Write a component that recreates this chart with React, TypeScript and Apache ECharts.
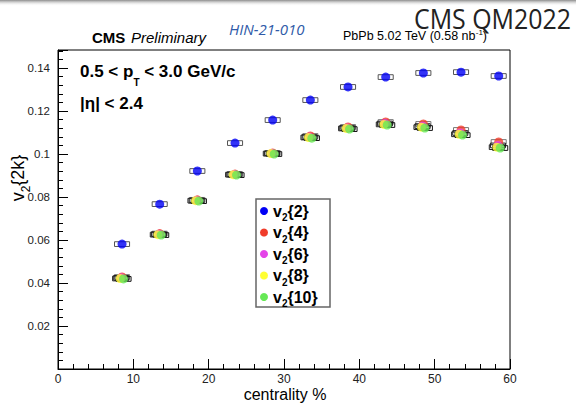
import React, { useEffect, useRef } from "react";
import * as echarts from "echarts";

// ---- data ----
const centrality = [8.5, 13.5, 18.5, 23.5, 28.5, 33.5, 38.5, 43.5, 48.5, 53.5, 58.5];
const v2_2 = [0.0581, 0.0767, 0.0921, 0.1051, 0.1158, 0.1251, 0.1312, 0.1358, 0.1377, 0.1381, 0.1363];
const v2_4 = [0.0428, 0.063, 0.0787, 0.0907, 0.1005, 0.1084, 0.1126, 0.1149, 0.114, 0.1112, 0.1056];
const v2_6 = [0.0424, 0.0627, 0.0784, 0.0905, 0.1003, 0.1079, 0.1121, 0.1142, 0.113, 0.1098, 0.104];
const v2_8 = [0.0421, 0.0625, 0.0783, 0.0904, 0.1002, 0.1077, 0.1119, 0.1138, 0.1125, 0.1092, 0.1032];
const v2_10 = [0.0419, 0.0623, 0.0781, 0.0902, 0.1, 0.1074, 0.1116, 0.1135, 0.1121, 0.1088, 0.1028];
const seriesNames = ["v2{2}", "v2{4}", "v2{6}", "v2{8}", "v2{10}"];
const legendLabels = ["2", "4", "6", "8", "10"];
const xTicks = { min: 0, max: 60, interval: 10 };
const yTicks = { min: 0, max: 0.1484, interval: 0.02 };

// ---- styles ----
const colors = ["#0000f5", "#f03c2a", "#e444e8", "#ffff33", "#66e855"];
const boxColors = ["#555555", "#777777", "#222222", "#222222", "#111111"];
const xShift = [0, 0, -0.1, -0.25, 0.2];
const FONT = '"Liberation Sans", Arial, sans-serif';

export default function App() {
  const ref = useRef<HTMLDivElement>(null);
  useEffect(() => {
    document.body.style.margin = "0";
    if (!ref.current) return;
    const chart = echarts.init(ref.current, undefined, { renderer: "svg" });
    const allValues = [v2_2, v2_4, v2_6, v2_8, v2_10];

    const boxSeries = allValues.map((vals, i) => ({
      type: "custom",
      name: seriesNames[i] + " syst",
      z: 2,
      silent: true,
      data: centrality.map((c, k) => [c + xShift[i], vals[k]]),
      renderItem: (params: any, api: any) => {
        const x = api.value(0);
        const y = api.value(1);
        const p1 = api.coord([x - 1.0, y + 0.0011]);
        const p2 = api.coord([x + 1.0, y - 0.0011]);
        return {
          type: "rect",
          shape: { x: p1[0], y: p1[1], width: p2[0] - p1[0], height: p2[1] - p1[1] },
          style: { fill: "none", stroke: boxColors[i], lineWidth: 1 },
        };
      },
    }));

    const pointSeries = allValues.map((vals, i) => ({
      type: "scatter",
      name: seriesNames[i],
      z: 3 + i,
      symbol: "circle",
      symbolSize: 9,
      itemStyle: { color: colors[i] },
      data: centrality.map((c, k) => [c + xShift[i], vals[k]]),
    }));

    const legendX = 256, legendY = 199, legendRow = 21.5;
    const legendGraphics: any[] = [
      {
        type: "rect",
        shape: { x: legendX, y: legendY, width: 74, height: 108 },
        style: { fill: "#fff", stroke: "#666", lineWidth: 1.5 },
        z: 10,
      },
    ];
    legendLabels.forEach((lab, i) => {
      const cy = legendY + 12 + legendRow * i;
      legendGraphics.push({
        type: "circle",
        shape: { cx: legendX + 8, cy, r: 4 },
        style: { fill: colors[i] },
        z: 11,
      });
      legendGraphics.push({
        type: "text",
        x: legendX + 17,
        y: cy,
        z: 11,
        style: {
          text: "v{s|2}{" + lab + "}",
          font: "bold 16px " + FONT,
          fill: "#000",
          lineHeight: 23,
          verticalAlign: "middle",
          align: "left",
          rich: {
            s: { fontSize: 10, fontWeight: "bold", fontFamily: FONT, fill: "#000", verticalAlign: "bottom", lineHeight: 10 },
          },
        },
      });
    });

    const option: any = {
      animation: false,
      backgroundColor: "#ffffff",
      grid: { left: 58, right: 66, top: 50, bottom: 34, show: true, borderColor: "#000", borderWidth: 1, backgroundColor: "transparent" },
      xAxis: {
        type: "value",
        min: xTicks.min,
        max: xTicks.max,
        interval: xTicks.interval,
        axisLine: { show: true, lineStyle: { color: "#000", width: 1 } },
        axisTick: { show: true, inside: true, length: 10, lineStyle: { color: "#000" } },
        minorTick: { show: true, splitNumber: 5, length: 5, lineStyle: { color: "#000" } },
        splitLine: { show: false },
        axisLabel: { color: "#222", fontFamily: FONT, fontSize: 12, lineHeight: 12, margin: 4 },
      },
      yAxis: {
        type: "value",
        min: yTicks.min,
        max: yTicks.max,
        interval: yTicks.interval,
        axisLine: { show: true, lineStyle: { color: "#000", width: 1 } },
        axisTick: { show: true, inside: true, length: 10, lineStyle: { color: "#000" } },
        minorTick: { show: true, splitNumber: 5, length: 5, lineStyle: { color: "#000" } },
        splitLine: { show: false },
        axisLabel: {
          color: "#222",
          fontFamily: FONT,
          fontSize: 11.5,
          margin: 8,
          showMinLabel: false,
          showMaxLabel: false,
          formatter: (v: number) => String(parseFloat(v.toFixed(4))),
        },
      },
      series: [...boxSeries, ...pointSeries],
      graphic: [
        {
          type: "rect",
          shape: { x: 0, y: 0, width: 576, height: 6 },
          style: {
            fill: new echarts.graphic.LinearGradient(0, 0, 0, 1, [
              { offset: 0, color: "#8c8c8c" },
              { offset: 1, color: "rgba(255,255,255,0)" },
            ]),
          },
        },
        {
          type: "text",
          x: 571,
          y: 18,
          scaleX: 0.89,
          style: { text: "CMS QM2022", font: '28px "Open Sans", sans-serif', fill: "#222", align: "right", verticalAlign: "middle" },
        },
        {
          type: "text",
          x: 229,
          y: 29,
          style: { text: "HIN-21-010", font: 'italic 15px "Open Sans", sans-serif', fill: "#2f5aa8", align: "left", verticalAlign: "middle" },
        },
        {
          type: "text",
          x: 92,
          y: 37,
          style: { text: "CMS", font: "bold 15px " + FONT, fill: "#000", align: "left", verticalAlign: "middle" },
        },
        {
          type: "text",
          x: 131,
          y: 37,
          style: { text: "Preliminary", font: "italic 15px " + FONT, fill: "#000", align: "left", verticalAlign: "middle" },
        },
        {
          type: "text",
          x: 343,
          y: 36,
          style: {
            text: "PbPb 5.02 TeV (0.58 nb{u|-1})",
            font: "12.5px " + FONT,
            fill: "#000",
            lineHeight: 16,
            align: "left",
            verticalAlign: "middle",
            rich: { u: { fontSize: 8, fontFamily: FONT, fill: "#000", verticalAlign: "top", lineHeight: 8 } },
          },
        },
        {
          type: "text",
          x: 80,
          y: 71,
          style: {
            text: "0.5 < p{s|T} < 3.0 GeV/c",
            font: "bold 17px " + FONT,
            fill: "#000",
            lineHeight: 32,
            align: "left",
            verticalAlign: "middle",
            rich: { s: { fontSize: 10, fontWeight: "bold", fontFamily: FONT, fill: "#000", verticalAlign: "bottom", lineHeight: 10 } },
          },
        },
        {
          type: "text",
          x: 80,
          y: 103,
          style: { text: "|η| < 2.4", font: "bold 17px " + FONT, fill: "#000", align: "left", verticalAlign: "middle" },
        },
        {
          type: "text",
          x: 18,
          y: 178,
          rotation: Math.PI / 2,
          style: {
            text: "v{s|2}{2k}",
            font: "18px " + FONT,
            fill: "#000",
            lineHeight: 27,
            align: "center",
            verticalAlign: "middle",
            rich: { s: { fontSize: 12, fontFamily: FONT, fill: "#000", verticalAlign: "bottom", lineHeight: 12 } },
          },
        },
        {
          type: "text",
          x: 285,
          y: 394.5,
          style: { text: "centrality %", font: "16px " + FONT, lineHeight: 16, fill: "#000", align: "center", verticalAlign: "middle" },
        },
        ...legendGraphics,
      ],
    };
    chart.setOption(option);
    return () => chart.dispose();
  }, []);
  return <div ref={ref} style={{ width: 576, height: 403 }} />;
}
